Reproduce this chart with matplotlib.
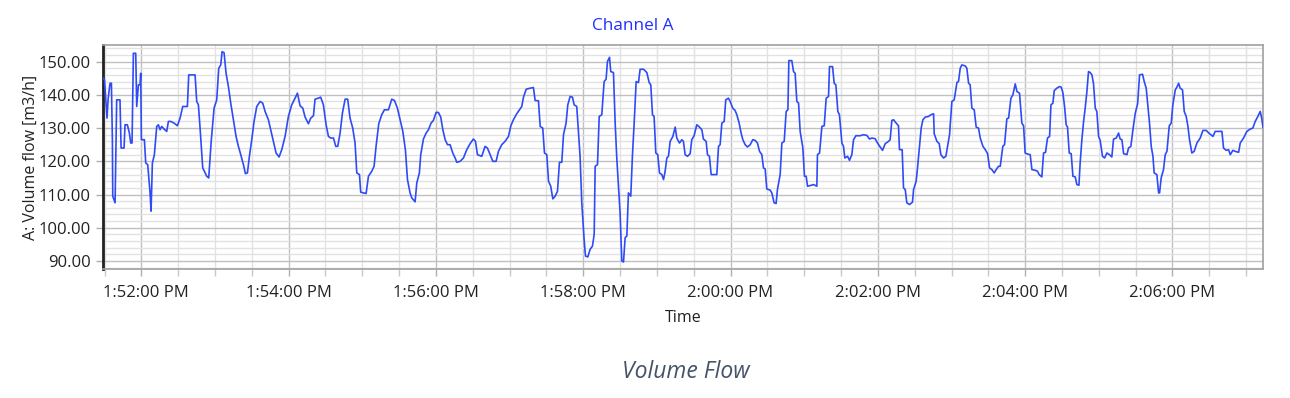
import datetime as dt
import matplotlib
matplotlib.use("Agg")
import matplotlib.pyplot as plt
import matplotlib.dates as mdates
import matplotlib.transforms as mtransforms
from matplotlib.ticker import MultipleLocator, FormatStrFormatter

plt.rcParams['font.family'] = ['Open Sans', 'DejaVu Sans']

# seconds relative to 1:52:00 PM
t_sec = [
    -31, -30, -28, -27, -25.5, -24.4, -23.6, -23.3, -21.4, -20.1, -17.4, -16.5, -14.1, -13.3, -11.4,
    -9.75, -8.66, -7.58, -6.49, -4.59, -3.77, -2.42, -1.06, -0.52, 0.03, 2.47, 3.56, 5.19, 7.09, 7.9,
    8.99, 10.62, 12.52, 13.88, 15.24, 16.6, 18.5, 20.67, 22.03, 23.93, 26.65, 29.36, 31.53, 33.71, 37.51,
    38.6, 43.76, 45.11, 46.47, 47.83, 50.0, 51.36, 53.26, 54.89, 56.79, 59.24, 61.41, 63.04, 64.67, 65.76,
    67.38, 69.01, 70.92, 72.82, 74.99, 77.16, 79.06, 80.97, 83.14, 84.77, 86.4, 88.03, 89.93, 91.83, 94.0,
    96.72, 98.89, 100.79, 103.5, 105.68, 107.58, 109.75, 112.2, 114.37, 117.09, 119.8, 122.52, 125.24, 127.14,
    129.3, 131.5, 133.4, 136.1, 138.0, 140.2, 141.5, 144.2, 146.1, 148.3, 150.5, 152.4, 154.3, 156.5, 158.4,
    160.0, 161.9, 163.8, 166.0, 168.1, 170.0, 172.2, 174.1, 175.5, 177.7, 178.7, 183.1, 185.0, 187.7, 189.6,
    191.2, 193.4, 195.8, 198.0, 201.3, 204.0, 206.2, 208.6, 210.8, 213.0, 215.1, 216.8, 218.9, 220.3, 223.0,
    224.4, 226.5, 227.6, 229.8, 232.0, 233.9, 236.0, 237.9, 240.1, 242.0, 243.9, 245.6, 247.5, 249.4, 251.5,
    253.7, 255.6, 257.0, 259.7, 262.4, 265.1, 267.8, 270.5, 272.2, 273.8, 277.3, 280.0, 281.9, 283.6,
    286.3, 289.0, 290.9, 293.6, 296.3, 299.1, 301.0, 303.1, 305.8, 308.0, 309.9, 311.3, 313.5, 316.7, 319.4,
    320.8, 323.5, 324.9, 327.0, 328.4, 330.3, 331.7, 333.5, 335.2, 337.1, 339.0, 340.6, 342.5, 343.9, 346.0,
    347.4, 349.3, 351.2, 352.6, 354.7, 356.1, 357.4, 358.8, 360.7, 361.8, 363.7, 365.6, 367.5, 368.9, 369.7,
    371.6, 373.0, 375.1, 377.0, 378.6, 379.7, 381.4, 382.4, 384.6, 386.0, 387.3, 388.7, 390.0, 391.4, 392.8,
    394.1, 395.5, 396.8, 398.7, 400.1, 401.4, 403.1, 405.0, 406.3, 409.1, 411.8, 413.7, 415.0, 416.4, 417.7,
    419.1, 420.7, 422.1, 424.0, 425.4, 426.7, 428.1, 429.4, 430.8, 433.0, 434.9, 436.2, 438.4,
    440.3, 441.6, 443.0, 444.9, 447.1, 448.4, 450.3, 452.5, 454.7, 456.6, 457.9, 460.1, 461.2, 462.8, 464.2,
    468.8, 470.2, 471.5, 472.9, 474.8, 476.1, 478.3, 479.7, 481.8, 483.7, 485.1, 487.0, 488.6, 490.0, 491.9,
    493.8, 496.0, 498.1, 500.0, 501.9, 503.6, 505.5, 506.8, 508.2, 509.5, 512.3, 513.6, 515.5, 517.1, 518.2,
    520.4, 521.8, 523.7, 525.3, 526.7, 527.5, 529.9, 531.3, 532.6, 534.0, 535.4, 536.7, 538.9, 540.2, 541.6,
    542.7, 544.9, 547.6, 550.3, 550.8, 552.5, 554.4, 556.3, 557.9, 559.8, 560.6, 563.1, 564.4, 565.8, 567.4,
    568.7, 570.7, 572.0, 573.1, 575.3, 576.9, 578.8, 580.2, 582.1, 585.6, 588.3, 591.0, 593.2,
    595.1, 597.8, 599.7, 601.9, 603.8, 606.0, 608.7, 610.0, 611.4, 612.8, 614.9, 616.8, 617.6, 619.8, 620.9,
    622.3, 623.6, 625.8, 628.2, 629.1, 631.2, 632.3, 633.9, 635.3, 636.7, 638.6, 641.3, 643.2, 645.4, 645.9,
    648.1, 650.0, 651.3, 653.5, 655.4, 656.8, 658.4, 660.3, 662.2, 664.4, 665.7, 667.1, 668.4, 671.2, 672.5,
    673.9, 675.2, 676.6, 678.5, 680.1, 682.0, 683.4, 685.6, 687.5, 689.4, 691.0, 692.9, 694.8, 696.4, 698.3,
    699.7, 701.8, 703.2, 705.1, 706.5, 708.4, 710.0, 711.9, 713.3, 715.4, 717.3, 718.7, 720.0, 721.9, 724.1,
    725.5, 728.2, 730.1, 731.4, 733.6, 735.0, 736.6, 738.2, 739.9, 741.0, 742.6, 743.7, 745.8, 748.0,
    749.4, 750.7, 752.1, 753.4, 754.5, 755.9, 757.5, 758.9, 760.8, 762.1, 763.8, 764.8, 766.2, 767.6, 768.9,
    770.3, 771.6, 773.0, 774.4, 775.7, 777.1, 778.4, 779.8, 781.1, 783.0, 784.7, 786.6, 788.7, 790.6, 792.0,
    794.2, 796.1, 797.4, 798.8, 800.2, 802.9, 804.2, 806.1, 807.8, 809.7, 811.6, 813.2, 815.6, 817.0, 818.6,
    820.0, 821.3, 822.7, 824.1, 825.1, 827.3, 828.7, 829.5, 830.8, 832.7, 834.1, 835.5, 837.4, 839.0, 840.3,
    842.3, 843.6, 845.0, 846.3, 848.2, 849.6, 851.2, 852.6, 853.9, 855.8, 857.7, 859.9, 862.6, 864.8, 867.5,
    870.2, 873.0, 874.8, 877.6, 880.3, 881.6, 883.8, 885.7, 887.1, 889.2, 891.1, 893.9, 895.2, 897.9, 900.6,
    903.4, 905.5, 907.4, 909.3, 911.5, 912.9, 913.7,
]
flow = [
    145.0, 144.5, 133.0, 139.0, 143.5, 143.5, 126.5, 109.5, 107.5, 138.5, 138.5, 124.0, 124.0, 131.0, 131.0,
    128.5, 125.5, 125.5, 152.5, 152.5, 136.5, 143.0, 143.0, 146.5, 126.5, 126.5, 119.5, 119.0, 110.5, 105.0,
    119.5, 122.0, 130.5, 131.0, 129.5, 130.5, 129.7, 129.0, 132.0, 132.0, 131.5, 130.7, 133.0, 136.5, 136.5,
    146.0, 146.0, 138.0, 137.0, 130.0, 118.0, 117.0, 115.5, 115.0, 125.5, 136.0, 138.5, 148.0, 149.0, 153.0,
    152.7, 146.5, 142.5, 137.5, 132.5, 127.5, 124.5, 122.0, 119.0, 116.3, 116.5, 121.5, 126.5, 132.0, 136.5,
    138.0, 137.5, 135.0, 132.5, 129.0, 126.0, 122.5, 121.3, 123.5, 127.5, 133.5, 137.0, 139.0, 140.5,
    136.7, 136.0, 133.3, 131.3, 133.0, 133.7, 138.7, 139.0, 139.3, 137.0, 131.0, 127.5, 127.0, 127.0, 124.5,
    124.5, 128.5, 134.5, 138.7, 138.7, 133.0, 130.0, 125.5, 116.5, 116.0, 110.7, 110.3, 115.5, 117.0, 118.5,
    124.5, 131.3, 134.0, 135.5, 135.5, 138.7, 138.3, 136.0, 132.5, 129.0, 123.5, 114.5, 110.5, 109.0, 107.8,
    113.5, 116.5, 122.0, 126.7, 128.5, 129.5, 131.5, 132.3, 134.7, 134.7, 133.3, 129.5, 126.5, 125.0, 125.0,
    122.5, 121.0, 119.7, 120.0, 121.0, 123.5, 125.3, 126.7, 126.0, 122.0, 121.5, 124.5, 124.0, 122.5,
    120.0, 120.0, 123.0, 125.0, 126.0, 127.5, 130.7, 132.5, 134.3, 135.5, 136.5, 139.3, 141.7, 142.0, 142.2,
    138.3, 138.2, 130.5, 130.0, 122.5, 122.0, 114.0, 112.5, 108.7, 109.5, 111.0, 119.7, 119.7, 128.0, 131.5,
    137.0, 139.5, 139.3, 137.0, 136.5, 128.5, 121.5, 107.5, 96.5, 91.5, 91.2, 93.5, 94.5, 98.0, 118.5,
    119.0, 133.5, 134.0, 144.0, 144.7, 150.0, 151.3, 147.0, 146.7, 131.5, 121.0, 112.5, 104.5, 90.0, 89.7,
    97.0, 97.5, 110.5, 109.5, 122.0, 131.0, 144.0, 143.7, 147.7, 147.7, 146.7, 143.7, 143.0, 134.0, 133.5,
    122.5, 122.0, 116.5, 116.0, 114.5, 117.0, 121.0, 121.5, 126.0, 127.5, 130.3, 127.0, 125.5,
    126.5, 126.0, 122.0, 121.5, 122.3, 126.5, 127.7, 131.0, 130.3, 129.5, 126.7, 126.0, 122.0, 121.5, 116.0,
    116.0, 124.5, 125.0, 131.5, 132.0, 138.5, 139.0, 138.0, 136.0, 135.3, 134.0, 131.5, 128.5, 126.5, 125.0,
    124.3, 125.0, 126.5, 126.3, 125.5, 123.0, 122.0, 118.0, 117.7, 111.7, 111.3, 110.5, 107.5, 107.3, 111.5,
    116.0, 125.5, 126.0, 135.0, 135.5, 150.3, 150.3, 147.0, 146.5, 138.0, 137.5, 129.0, 124.0, 115.5, 115.5,
    112.5, 112.7, 113.0, 112.5, 122.0, 122.5, 130.5, 130.7, 139.0, 139.5, 148.5, 148.5, 143.5, 143.0, 135.0,
    134.0, 125.5, 124.5, 121.0, 121.5, 120.3, 122.0, 126.5, 127.7, 127.7, 128.0, 127.8, 126.7,
    127.0, 126.8, 125.5, 124.3, 123.3, 125.3, 126.0, 126.5, 132.3, 132.5, 131.5, 130.7, 123.5, 123.5, 112.0,
    111.5, 107.5, 107.0, 107.7, 111.5, 114.0, 118.0, 124.5, 130.0, 132.5, 133.3, 133.5, 134.0, 134.3, 128.3,
    126.0, 125.3, 122.0, 121.0, 121.5, 124.5, 128.0, 138.0, 138.5, 143.7, 144.0, 148.0, 149.0, 148.7, 148.0,
    143.5, 143.0, 136.0, 135.5, 130.3, 130.0, 127.0, 124.5, 123.5, 122.3, 118.0, 117.5, 116.5, 117.5, 118.5,
    118.5, 124.5, 125.0, 132.8, 133.0, 139.0, 140.0, 143.3, 141.0, 140.5, 131.5, 130.7, 122.5, 122.2, 122.0,
    117.5, 117.3, 117.0, 116.0, 115.3, 122.5, 122.7, 127.0, 127.5, 137.0, 137.5, 141.3, 142.0, 142.5,
    142.3, 140.7, 136.5, 131.0, 130.3, 122.5, 122.3, 115.5, 115.3, 113.0, 112.8, 119.5, 126.5, 132.0, 136.0,
    141.0, 147.0, 146.7, 146.0, 143.3, 136.0, 135.0, 127.5, 126.3, 121.5, 121.0, 122.5, 122.0, 121.3, 126.7,
    127.0, 128.5, 126.7, 126.5, 122.3, 122.0, 124.0, 124.5, 129.5, 134.5, 137.3, 146.0, 146.2, 144.0, 142.0,
    136.5, 131.5, 124.5, 121.5, 116.5, 116.0, 110.5, 110.5, 115.0, 117.5, 122.0, 123.0, 130.7, 131.5, 137.0,
    141.5, 142.3, 143.5, 142.0, 141.5, 135.0, 133.5, 130.5, 126.5, 122.5, 123.0, 125.5, 127.0, 129.3, 129.3,
    128.3, 127.5, 129.0, 129.0, 129.0, 124.0, 123.3, 123.5, 122.0, 123.3, 123.0, 122.7, 125.5, 127.0, 129.0,
    129.7, 130.0, 132.0, 133.3, 135.0, 132.5, 130.3,
]

base = dt.datetime(2020, 1, 1, 13, 52, 0)
times = [base + dt.timedelta(seconds=s) for s in t_sec]

fig = plt.figure(figsize=(12.9, 3.98), dpi=100)
ax = fig.add_axes([103.3 / 1290, 1 - 269.3 / 398, 1160 / 1290, 224.3 / 398])

ax.plot(times, flow, color='#2f4bf7', lw=1.2, zorder=3)

ax.set_xlim(base + dt.timedelta(seconds=-31), base + dt.timedelta(seconds=914))
ax.set_ylim(87.5, 155.0)

ax.xaxis.set_major_locator(mdates.MinuteLocator(byminute=range(0, 60, 2)))
ax.xaxis.set_minor_locator(mdates.SecondLocator(bysecond=[0, 30]))
ax.xaxis.set_major_formatter(mdates.DateFormatter('%-I:%M:%S %p'))
ax.yaxis.set_major_locator(MultipleLocator(10))
ax.yaxis.set_minor_locator(MultipleLocator(2))
ax.yaxis.set_major_formatter(FormatStrFormatter('%.2f'))

ax.grid(which='major', color='#c0c0c0', lw=1.0, zorder=1)
ax.grid(which='minor', color='#e2e2e2', lw=1.0, zorder=0)
ax.set_axisbelow(True)

ax.tick_params(axis='both', which='major', labelsize=12, colors='#b0b0b0', labelcolor='#222222', length=5, width=1)
ax.tick_params(axis='x', which='minor', colors='#c8c8c8', length=5, width=1)
ax.tick_params(axis='y', which='minor', length=0)
ax.tick_params(axis='x', pad=6)
ax.tick_params(axis='y', pad=4)

for side in ['top', 'right', 'bottom']:
    ax.spines[side].set_color('#a0a0a0')
    ax.spines[side].set_linewidth(1.2)
ax.spines['left'].set_color('#222222')
ax.spines['left'].set_linewidth(2.0)

ax.set_ylabel('A: Volume flow [m3/h]', fontsize=11.5, color='#222222', labelpad=0)
ax.set_xlabel('Time', fontsize=11.5, color='#222222', labelpad=7)

fig.text(633 / 1290, 1 - 26 / 398, 'Channel A', color='#1f2fff', fontsize=12.3, ha='center', va='center')
fig.text(686 / 1290, 1 - 372 / 398, 'Volume Flow', color='#44546a', fontsize=16.5, style='italic',
         ha='center', va='center')

# first time label sits slightly right of its tick (kept inside the chart area)
fig.canvas.draw()
first = ax.get_xticklabels()[0]
first.set_transform(first.get_transform() + mtransforms.ScaledTranslation(5 / 100, 0, fig.dpi_scale_trans))

fig.savefig('out.png', dpi=100)
